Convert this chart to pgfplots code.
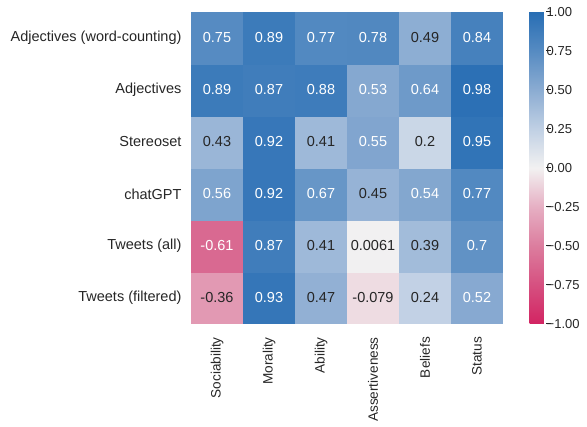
\documentclass[border=0pt]{standalone}
\usepackage{fontspec}
\setmainfont{Liberation Sans}
\usepackage{pgfplots}
\pgfplotsset{compat=1.18}
\definecolor{textdark}{RGB}{38,38,38}
\newcommand{\lf}{\fontsize{14.5}{17}\selectfont}
\newcommand{\xf}{\fontsize{13.6}{16}\selectfont}
\newcommand{\cf}{\fontsize{13}{16}\selectfont}
\begin{document}
\begin{tikzpicture}[x=1pt,y=1pt]
\useasboundingbox (0,0) rectangle (587,427);
\begin{axis}[
  at={(191pt,103pt)}, anchor=south west,
  scale only axis, width=312pt, height=312pt,
  xmin=-0.5, xmax=5.5, ymin=-0.5, ymax=5.5,
  axis line style={draw=none},
  major tick length=0pt,
  xtick={0,1,2,3,4,5}, ytick={0,1,2,3,4,5},
  xticklabels={Sociability,Morality,Ability,Assertiveness,Beliefs,Status},
  yticklabels={Tweets (filtered),Tweets (all),chatGPT,Stereoset,Adjectives,Adjectives (word-counting)},
  xticklabel style={rotate=90, anchor=east, font=\xf, text=textdark, inner sep=0pt, xshift=-13pt},
  yticklabel style={anchor=east, font=\lf, text=textdark, xshift=-6pt},
  colormap={divmap}{rgb255(0cm)=(210,36,98); rgb255(1cm)=(214,80,128); rgb255(2cm)=(220,125,158); rgb255(3cm)=(230,175,195); rgb255(4cm)=(242,241,241); rgb255(5cm)=(192,208,228); rgb255(6cm)=(139,172,210); rgb255(7cm)=(86,139,194); rgb255(8cm)=(40,110,180)},
  point meta min=-1, point meta max=1,
  colorbar,
  colorbar style={
    at={(parent axis.north east)}, anchor=north west, xshift=18pt,
    scale only axis, width=16pt, height=312pt,
    axis line style={draw=none},
    ytick={-1,-0.75,-0.5,-0.25,0,0.25,0.5,0.75,1},
    yticklabels={−1.00,−0.75,−0.50,−0.25,0.00,0.25,0.50,0.75,1.00},
    yticklabel style={font=\cf, text=textdark, inner sep=0pt, anchor=west, xshift=-4pt},
    ytick pos=right, tick align=outside, major tick length=5pt,
    tick style={draw=textdark, line width=1pt},
  },
]
\addplot[matrix plot*, mesh/cols=6, point meta=explicit] table[x=x, y=y, meta=c] {
x y c
0 0 -0.36
1 0 0.93
2 0 0.47
3 0 -0.079
4 0 0.24
5 0 0.52
0 1 -0.61
1 1 0.87
2 1 0.41
3 1 0.0061
4 1 0.39
5 1 0.7
0 2 0.56
1 2 0.92
2 2 0.67
3 2 0.45
4 2 0.54
5 2 0.77
0 3 0.43
1 3 0.92
2 3 0.41
3 3 0.55
4 3 0.2
5 3 0.95
0 4 0.89
1 4 0.87
2 4 0.88
3 4 0.53
4 4 0.64
5 4 0.98
0 5 0.75
1 5 0.89
2 5 0.77
3 5 0.78
4 5 0.49
5 5 0.84
};
% white annotations
\addplot[draw=none, mark=none, nodes near coords, point meta=explicit symbolic,
  nodes near coords style={anchor=center, text=white, font=\lf}] table[x=x, y=y, meta=l] {
x y l
1 0 0.93
5 0 0.52
0 1 -0.61
1 1 0.87
5 1 0.7
0 2 0.56
1 2 0.92
2 2 0.67
4 2 0.54
5 2 0.77
1 3 0.92
3 3 0.55
5 3 0.95
0 4 0.89
1 4 0.87
2 4 0.88
3 4 0.53
4 4 0.64
5 4 0.98
0 5 0.75
1 5 0.89
2 5 0.77
3 5 0.78
5 5 0.84
};
% dark annotations
\addplot[draw=none, mark=none, nodes near coords, point meta=explicit symbolic,
  nodes near coords style={anchor=center, text=textdark, font=\lf}] table[x=x, y=y, meta=l] {
x y l
0 0 -0.36
2 0 0.47
3 0 -0.079
4 0 0.24
2 1 0.41
3 1 0.0061
4 1 0.39
3 2 0.45
0 3 0.43
2 3 0.41
4 3 0.2
4 5 0.49
};
\end{axis}
\end{tikzpicture}
\end{document}
